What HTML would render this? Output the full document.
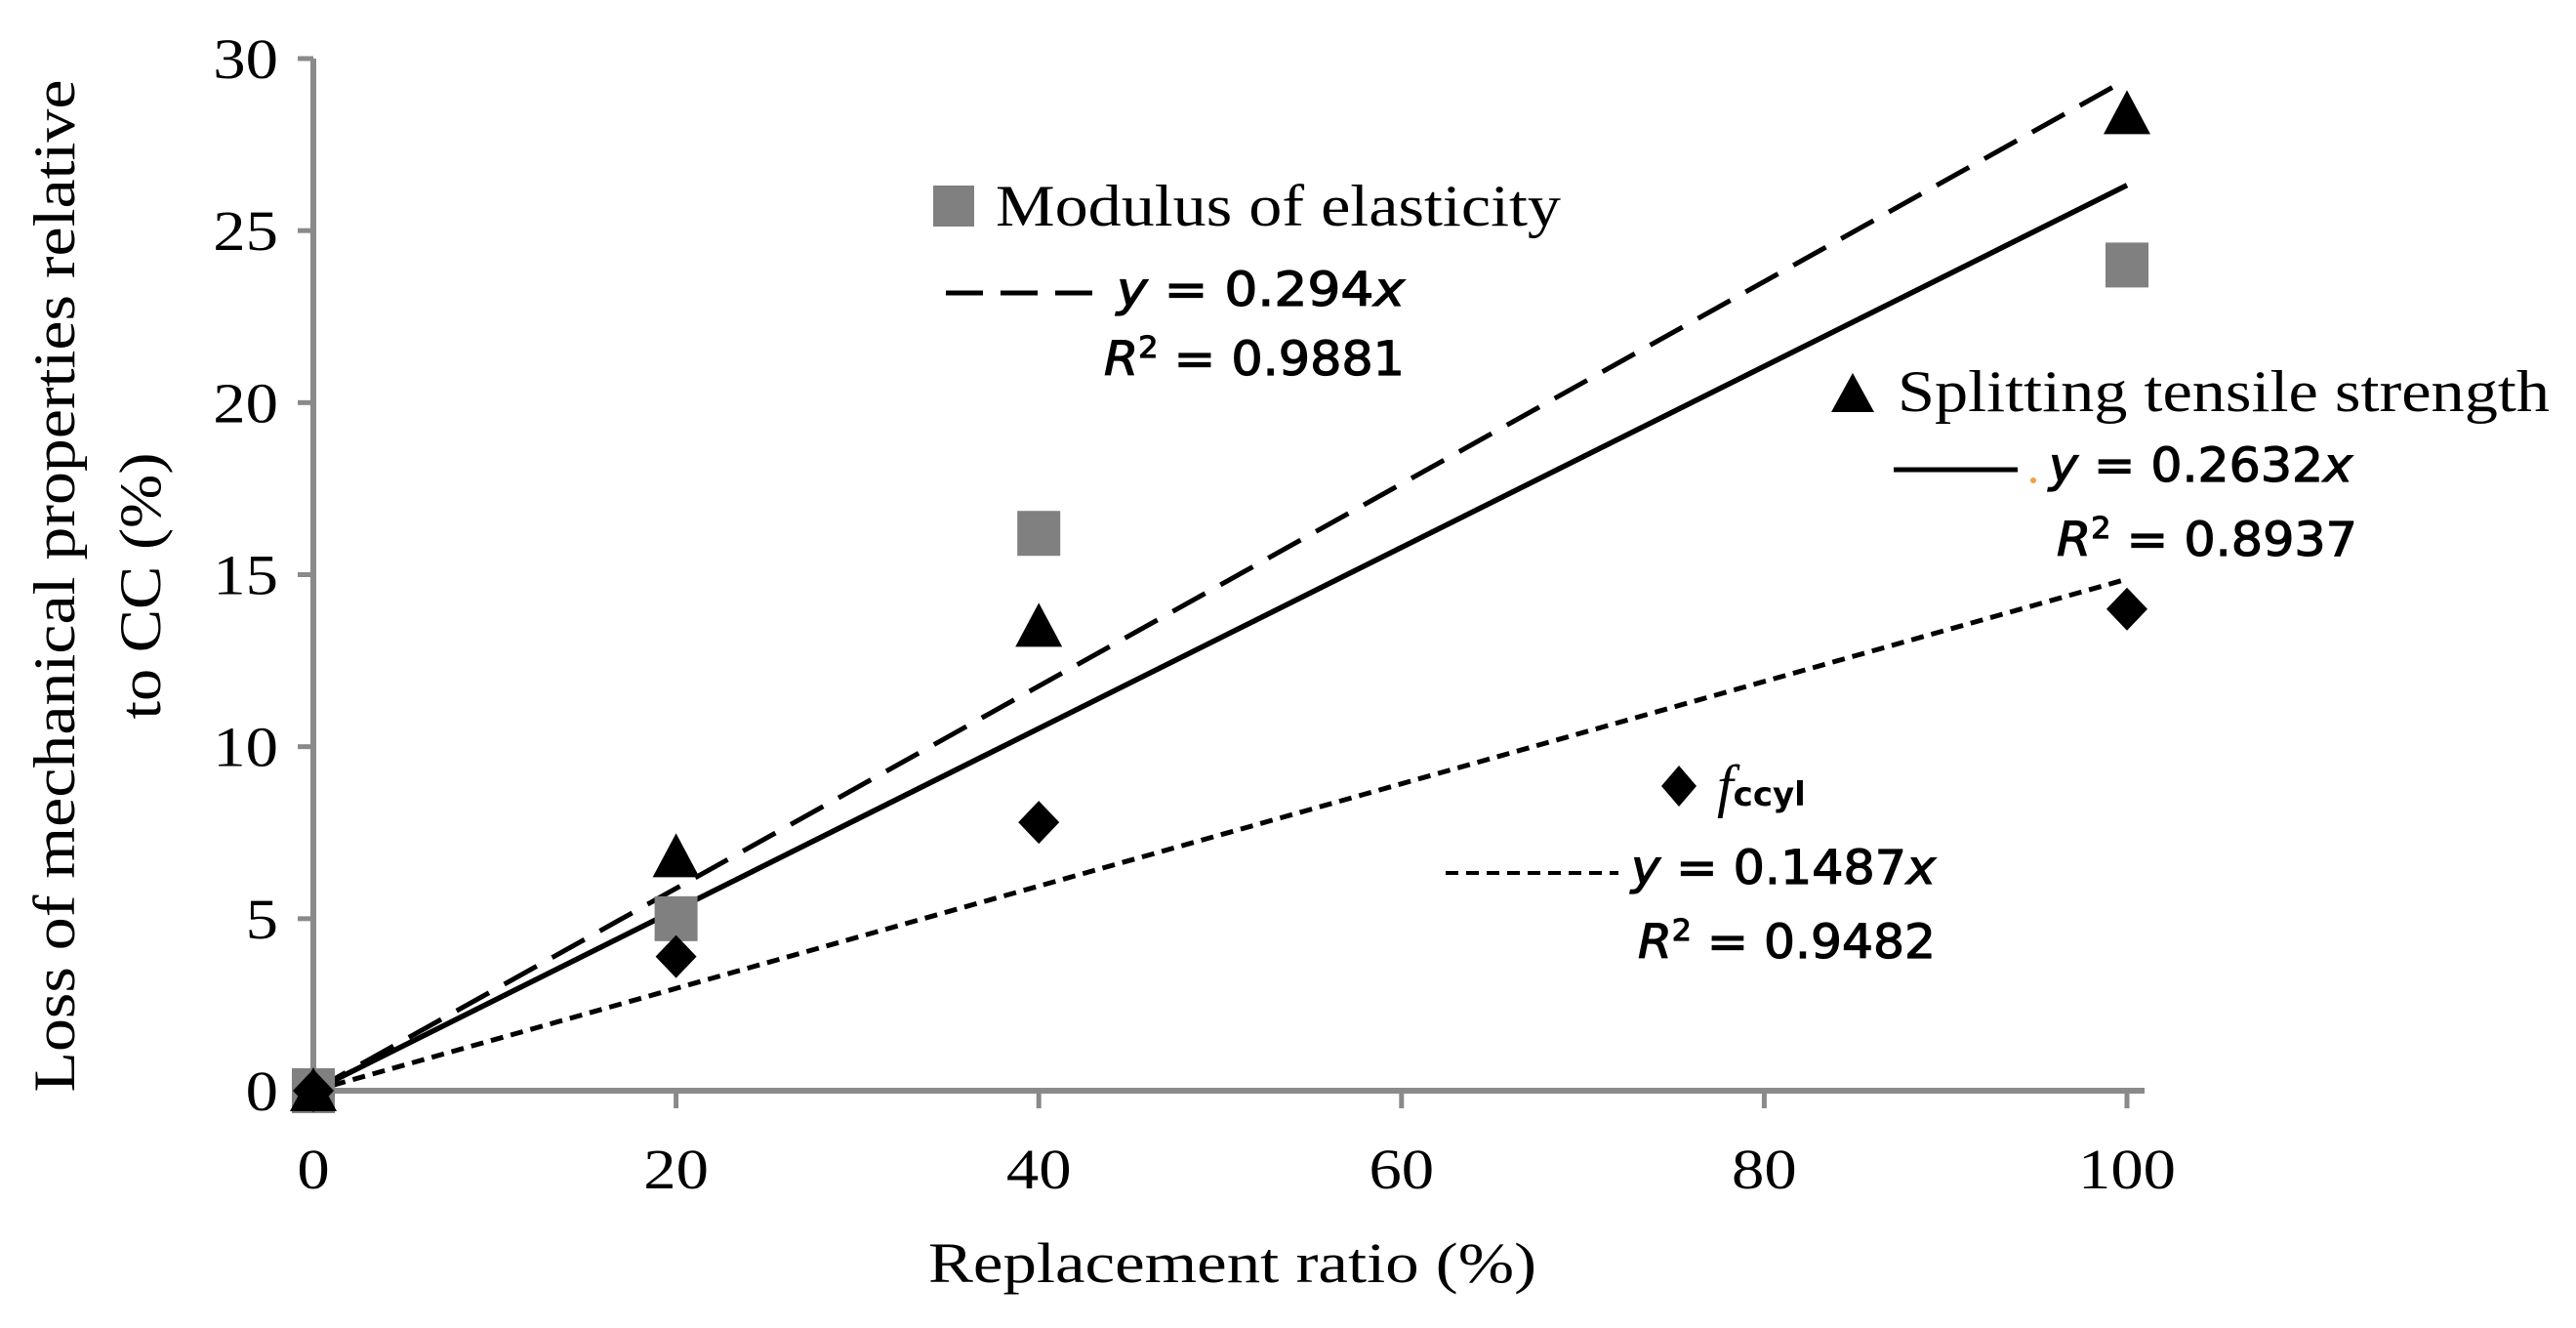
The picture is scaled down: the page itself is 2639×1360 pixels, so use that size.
<!DOCTYPE html>
<html><head><meta charset="utf-8"><style>
html,body{margin:0;padding:0;background:#fff;}
svg{display:block;}
.serif{font-family:"Liberation Serif",serif;}
.sans{font-family:"DejaVu Sans","Liberation Sans",sans-serif;}
.eq{stroke:#000;stroke-width:1.2;}
</style></head><body>
<svg id="chart" width="2639" height="1360" viewBox="0 0 2639 1360" xmlns="http://www.w3.org/2000/svg">
<g id="axes"></g>
<g id="trends"></g>
<g id="marks"></g>
<text class="serif" font-size="60" text-anchor="middle" transform="translate(76,600) rotate(-90)" textLength="1037" lengthAdjust="spacingAndGlyphs">Loss of mechanical properties relative</text>
<text class="serif" font-size="60" text-anchor="middle" transform="translate(164,600) rotate(-90)" textLength="273" lengthAdjust="spacingAndGlyphs">to CC (%)</text>
<text class="serif" font-size="58" x="951" y="1313" textLength="623" lengthAdjust="spacingAndGlyphs">Replacement ratio (%)</text>

<g>
<rect x="956" y="190" width="42" height="42" fill="#808080"/>
<text class="serif" font-size="60" x="1020" y="231" textLength="579" lengthAdjust="spacingAndGlyphs">Modulus of elasticity</text>
<line x1="969" y1="300" x2="1119" y2="300" stroke="#000" stroke-width="5" stroke-dasharray="38,18"/>
<text class="sans eq" font-size="48" x="1144" y="313" textLength="295" lengthAdjust="spacingAndGlyphs"><tspan font-style="italic">y</tspan> = 0.294<tspan font-style="italic">x</tspan></text>
<text class="sans eq" font-size="48" x="1131" y="384" textLength="308" lengthAdjust="spacingAndGlyphs"><tspan font-style="italic">R</tspan><tspan font-size="30" dy="-18">2</tspan><tspan dy="18"> = 0.9881</tspan></text>
</g>

<g>
<polygon points="1898,382 1920,422 1876,422" fill="#000"/>
<text class="serif" font-size="60" x="1944" y="421" textLength="668" lengthAdjust="spacingAndGlyphs">Splitting tensile strength</text>
<line x1="1940" y1="481" x2="2067" y2="481" stroke="#000" stroke-width="5"/>
<circle cx="2083" cy="492" r="3" fill="#f0a040"/>
<text class="sans eq" font-size="48" x="2099" y="493" textLength="311" lengthAdjust="spacingAndGlyphs"><tspan font-style="italic">y</tspan> = 0.2632<tspan font-style="italic">x</tspan></text>
<text class="sans eq" font-size="48" x="2107" y="569" textLength="308" lengthAdjust="spacingAndGlyphs"><tspan font-style="italic">R</tspan><tspan font-size="30" dy="-18">2</tspan><tspan dy="18"> = 0.8937</tspan></text>
</g>

<g>
<polygon points="1720,784 1738,805 1720,826 1702,805" fill="#000"/>
<text x="1759" y="825"><tspan class="serif" font-style="italic" font-size="60">f</tspan><tspan class="sans" font-weight="bold" font-size="34">ccyl</tspan></text>
<line x1="1481" y1="894" x2="1658" y2="894" stroke="#000" stroke-width="4" stroke-dasharray="13,8"/>
<text class="sans eq" font-size="48" x="1671" y="905" textLength="312" lengthAdjust="spacingAndGlyphs"><tspan font-style="italic">y</tspan> = 0.1487<tspan font-style="italic">x</tspan></text>
<text class="sans eq" font-size="48" x="1678" y="981" textLength="305" lengthAdjust="spacingAndGlyphs"><tspan font-style="italic">R</tspan><tspan font-size="30" dy="-18">2</tspan><tspan dy="18"> = 0.9482</tspan></text>
</g>
</svg>
<script>
const xTicks = [0, 20, 40, 60, 80, 100];
const yTicks = [0, 5, 10, 15, 20, 25, 30];
const xCats = [0, 20, 40, 100];
const modulusVals = [0, 5, 16.2, 24];
const splittingVals = [0, 6.8, 13.5, 28.4];
const fccylVals = [0, 3.9, 7.8, 14];
const slopeModulus = [0.294];
const slopeSplitting = [0.2632];
const slopeFccyl = [0.1487];

const NS = 'http://www.w3.org/2000/svg';
const X0 = 321, X1 = 2179, Y0 = 1117, Y1 = 60;
function sx(v){ return X0 + (v - 0) / 100 * (X1 - X0); }
function sy(v){ return Y0 - (v - 0) / 30 * (Y0 - Y1); }
function mk(tag, attrs, parent){
  const e = document.createElementNS(NS, tag);
  for (const k in attrs) e.setAttribute(k, attrs[k]);
  parent.appendChild(e);
  return e;
}
const axes = document.getElementById('axes');
const trends = document.getElementById('trends');
const marks = document.getElementById('marks');
const AX = '#8a8a8a';

let yl = mk('line', {x1: sx(0), y1: sy(30), x2: sx(0), y2: sy(0), stroke: AX, 'stroke-width': 6}, axes);


let xl = mk('line', {x1: sx(0) - 14, y1: sy(0), x2: X1 + 18, y2: sy(0), stroke: AX, 'stroke-width': 6}, axes);



yTicks.forEach(function(v){
  const t = mk('line', {x1: sx(0) - 16, y1: sy(v), x2: sx(0), y2: sy(v), stroke: AX, 'stroke-width': 5}, axes);
  
  
  const l = mk('text', {'text-anchor': 'end', 'font-size': 58, class: 'serif', transform: 'translate(' + (sx(0) - 36) + ',' + (sy(v) + 20) + ') scale(1.15,1)'}, axes);
  l.textContent = String(v);
  
  
});
xTicks.forEach(function(v){
  const t = mk('line', {x1: sx(v), y1: sy(0), x2: sx(v), y2: sy(0) + 18, stroke: AX, 'stroke-width': 5}, axes);
  
  
  const l = mk('text', {'text-anchor': 'middle', 'font-size': 58, class: 'serif', transform: 'translate(' + sx(v) + ',1217) scale(1.15,1)'}, axes);
  l.textContent = String(v);
  
  
});

function trend(slope, dash, w, name){
  const a = {x1: sx(0), y1: sy(0), x2: sx(100), y2: sy(slope * 100), stroke: '#000', 'stroke-width': w};
  if (dash) a['stroke-dasharray'] = dash;
  const l = mk('line', a, trends);
  
  
}
trend(slopeFccyl[0], '13,8', 5, 'trendline-fccyl');
trend(slopeModulus[0], '38,18', 5, 'trendline-modulus');
trend(slopeSplitting[0], null, 5.5, 'trendline-splitting');

xCats.forEach(function(c, i){
  const x = sx(c), y = sy(modulusVals[i]);
  const r = mk('rect', {x: x - 22, y: y - 23, width: 44, height: 46, fill: '#808080'}, marks);
  
  
});
xCats.forEach(function(c, i){
  const x = sx(c), y = sy(fccylVals[i]);
  const p = mk('polygon', {points: (x) + ',' + (y - 22) + ' ' + (x + 21) + ',' + y + ' ' + x + ',' + (y + 22) + ' ' + (x - 21) + ',' + y, fill: '#000'}, marks);
  
  
});
xCats.forEach(function(c, i){
  const x = sx(c), y = sy(splittingVals[i]);
  const p = mk('polygon', {points: x + ',' + (y - 24) + ' ' + (x + 24) + ',' + (y + 21) + ' ' + (x - 24) + ',' + (y + 21), fill: '#000'}, marks);
  
  
});
</script>
</body></html>
